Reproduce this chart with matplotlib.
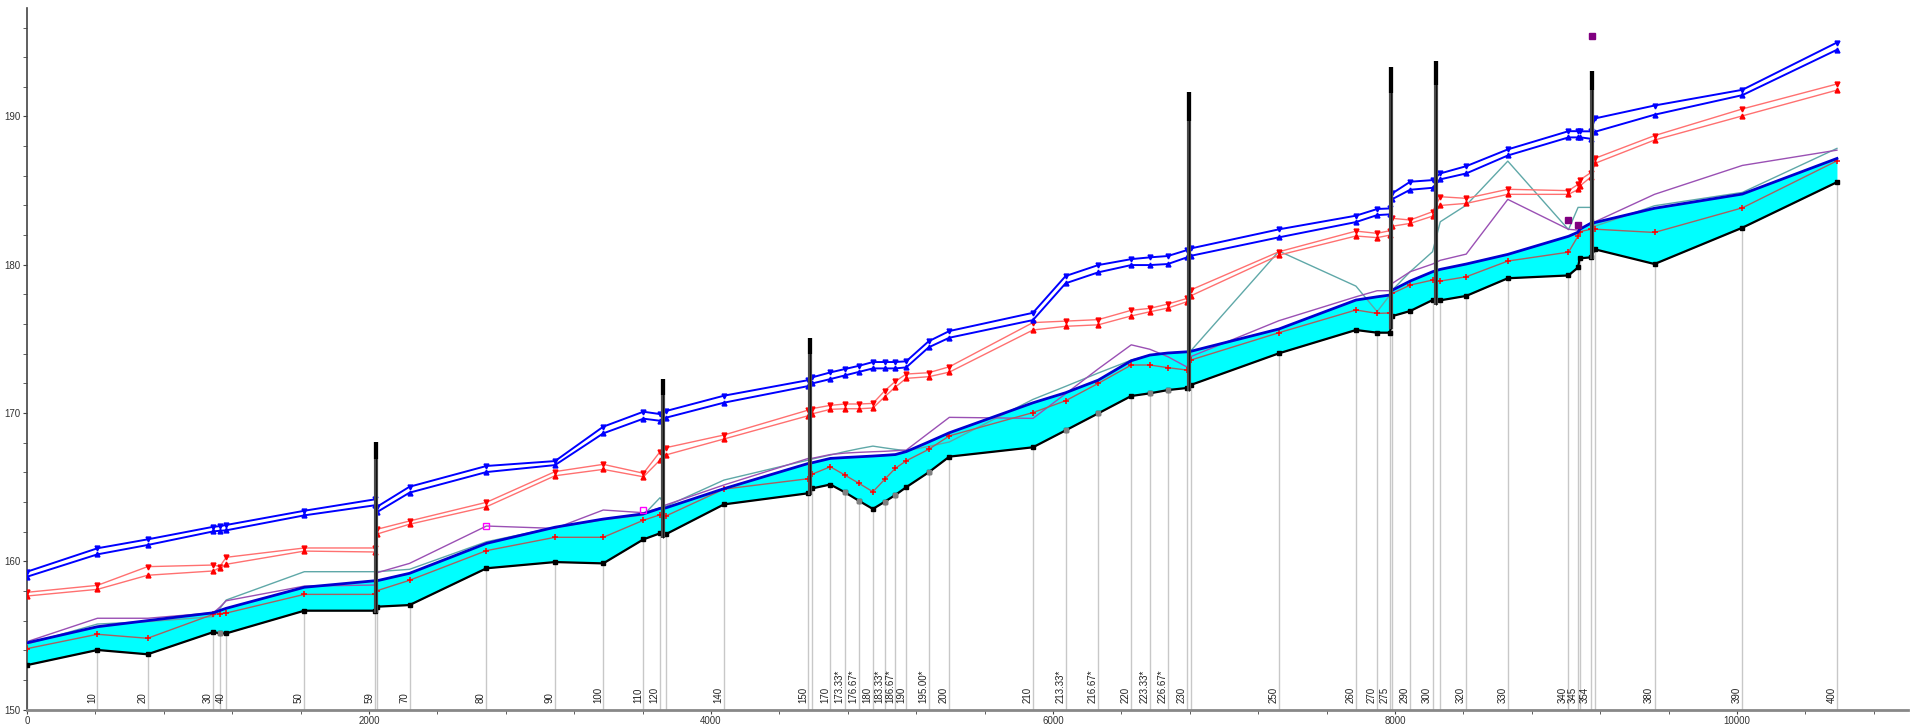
import numpy as np
import matplotlib
matplotlib.use('Agg')
import matplotlib.pyplot as plt
from matplotlib.ticker import MultipleLocator

plt.rcParams['font.family'] = ['Liberation Sans', 'DejaVu Sans']

# river stations (labels under the profile) and main channel distance
labels = ['', '10', '20', '30', '', '40', '50', '59', '', '70',
          '80', '90', '100', '110', '120', '', '140', '150', '', '170',
          '173.33*', '176.67*', '180', '183.33*', '186.67*', '190', '195.00*', '200', '210', '213.33*',
          '216.67*', '220', '223.33*', '226.67*', '230', '', '250', '260', '270', '275',
          '', '290', '300', '', '320', '330', '340', '345', '', '354',
          '', '380', '390', '400']
dist = [0, 412, 705, 1090, 1127, 1165, 1622, 2035, 2047, 2237,
        2687, 3088, 3370, 3605, 3702, 3735, 4076, 4569, 4593, 4698,
        4784, 4867, 4947, 5016, 5078, 5142, 5273, 5394, 5883, 6074,
        6265, 6458, 6567, 6672, 6784, 6805, 7322, 7772, 7896, 7971,
        7985, 8089, 8220, 8265, 8417, 8660, 9015, 9071, 9080, 9144,
        9170, 9518, 10032, 10585]

# channel invert
ground = [153.0, 154.02, 153.73, 155.23, 155.14, 155.14, 156.67, 156.67, 156.94, 157.05,
          159.53, 159.95, 159.86, 161.48, 161.89, 161.82, 163.84, 164.59, 164.92, 165.18,
          164.65, 164.07, 163.53, 164.02, 164.47, 165.0, 166.0, 167.06, 167.69, 168.83,
          169.98, 171.15, 171.33, 171.55, 171.69, 171.89, 174.03, 175.6, 175.42, 175.42,
          176.54, 176.88, 177.62, 177.6, 177.9, 179.09, 179.28, 179.82, 180.43, 180.5,
          181.04, 180.05, 182.5, 185.57]
interp_sections = [4, 20, 21, 23, 24, 26, 29, 30, 32, 33]

# water surface
ws = [154.5, 155.59, 156.0, 156.53, 156.68, 156.83, 158.25, 158.69, 158.69, 159.19,
      161.21, 162.3, 162.85, 163.2, 163.57, 163.6, 164.9, 166.6, 166.65, 166.94,
      167.0, 167.05, 167.1, 167.15, 167.2, 167.4, 168.05, 168.67, 170.69, 171.37,
      172.22, 173.53, 173.91, 174.05, 174.13, 174.16, 175.67, 177.62, 177.84, 177.96,
      178.29, 178.9, 179.53, 179.69, 180.05, 180.7, 181.92, 182.2, 182.39, 182.79,
      182.85, 183.81, 184.77, 187.17]

# critical depth
crit = [154.11, 155.08, 154.81, 156.43, 156.47, 156.51, 157.77, 157.77, 158.02, 158.72,
        160.72, 161.62, 161.62, 162.77, 163.14, 163.05, 164.87, 165.57, 165.88, 166.38,
        165.81, 165.25, 164.69, 165.53, 166.27, 166.78, 167.55, 168.46, 170.03, 170.83,
        172.0, 173.24, 173.24, 173.06, 172.9, 173.57, 175.42, 176.95, 176.72, 176.75,
        178.07, 178.63, 178.97, 178.9, 179.19, 180.25, 180.85, 181.94, 182.23, 182.39,
        182.4, 182.18, 183.84, 187.01]

# bank elevations
left_bank = [154.58, 156.16, 156.16, 156.53, 156.9, 157.34, 158.33, 158.4, 159.23, 159.86,
             162.38, 162.22, 163.46, 163.28, 163.6, 163.8, 165.15, 166.94, 166.95, 167.2,
             167.3, 167.35, 167.39, 167.42, 167.46, 167.5, 168.65, 169.71, 169.64, 171.3,
             172.98, 174.6, 174.3, 173.8, 173.1, 173.8, 176.23, 177.84, 178.25, 178.25,
             178.75, 179.53, 180.05, 180.3, 180.72, 184.41, 182.39, 182.34, 182.39, 182.8,
             182.9, 184.75, 186.7, 187.73]
right_bank = [154.42, 155.77, 155.93, 156.27, 156.8, 157.39, 159.3, 159.3, 159.3, 159.46,
              161.32, 162.29, 162.8, 163.12, 164.29, 163.7, 165.48, 166.83, 166.9, 167.17,
              167.4, 167.6, 167.77, 167.65, 167.55, 167.46, 167.75, 168.05, 170.92, 171.8,
              172.7, 173.57, 173.9, 174.05, 174.13, 174.18, 180.92, 178.56, 176.84, 177.96,
              178.3, 179.53, 180.88, 182.9, 184.02, 186.99, 182.37, 183.87, 183.87, 183.87,
              182.6, 183.98, 184.88, 187.85]

# upper profiles (blue pair, red pair)
blue_hi = [159.3, 160.88, 161.48, 162.33, 162.37, 162.45, 163.41, 164.18, 163.68, 165.03,
           166.43, 166.76, 169.08, 170.09, 169.93, 170.13, 171.17, 172.22, 172.41, 172.74,
           172.97, 173.19, 173.44, 173.44, 173.44, 173.49, 174.84, 175.53, 176.76, 179.24,
           179.98, 180.38, 180.5, 180.59, 180.99, 181.1, 182.39, 183.31, 183.76, 183.8,
           184.82, 185.6, 185.71, 186.16, 186.65, 187.78, 189.01, 189.01, 189.0, 189.0,
           189.87, 190.74, 191.8, 194.99]
blue_lo = [158.96, 160.47, 161.1, 162.02, 162.06, 162.09, 163.1, 163.78, 163.32, 164.63,
           166.02, 166.49, 168.63, 169.62, 169.48, 169.68, 170.7, 171.82, 172.0, 172.29,
           172.54, 172.78, 173.01, 173.01, 173.01, 173.08, 174.43, 175.08, 176.27, 178.75,
           179.49, 179.98, 179.98, 180.05, 180.5, 180.6, 181.85, 182.88, 183.35, 183.4,
           184.43, 185.06, 185.19, 185.76, 186.16, 187.37, 188.59, 188.59, 188.6, 188.5,
           188.97, 190.12, 191.44, 194.5]
red_hi = [157.91, 158.38, 159.64, 159.75, 159.64, 160.27, 160.9, 160.9, 162.16, 162.72,
          163.98, 166.05, 166.54, 165.94, 167.39, 167.66, 168.52, 170.2, 170.3, 170.52,
          170.61, 170.61, 170.65, 171.5, 172.14, 172.63, 172.72, 173.12, 176.1, 176.2,
          176.3, 176.93, 177.06, 177.35, 177.73, 178.3, 180.88, 182.27, 182.12, 182.3,
          183.13, 183.02, 183.58, 184.59, 184.48, 185.09, 185.0, 185.42, 185.71, 186.2,
          187.18, 188.71, 190.51, 192.19]
red_lo = [157.66, 158.11, 159.06, 159.35, 159.57, 159.8, 160.69, 160.63, 161.84, 162.5,
          163.68, 165.77, 166.2, 165.7, 166.83, 167.17, 168.25, 169.82, 169.95, 170.25,
          170.29, 170.29, 170.34, 171.1, 171.75, 172.34, 172.45, 172.76, 175.6, 175.85,
          175.95, 176.55, 176.83, 177.08, 177.51, 177.9, 180.65, 181.94, 181.83, 182.0,
          182.6, 182.79, 183.28, 184.0, 184.14, 184.75, 184.75, 185.08, 185.3, 185.9,
          186.84, 188.41, 190.04, 191.78]

# bridges (deck top)
bridge_dist = [2041, 3718, 4581, 6795, 7978, 8242, 9152]
bridge_top = [168.07, 172.28, 175.04, 191.68, 193.33, 193.74, 193.08]

# single points
open_sq_x = [2687, 3605]
open_sq_y = [162.4, 163.45]
fill_sq_x = [9015, 9071, 9152]
fill_sq_y = [183.02, 182.68, 195.44]

fig = plt.figure(figsize=(19.15, 7.24), dpi=100)
ax = fig.add_axes([0.0141, 0.0199, 0.9822, 0.9687])

dist = np.array(dist)
ground = np.array(ground)

# section lines down to the axis
ax.vlines(dist, 150, ground, color='#c8c8c8', lw=1, zorder=1)

ax.fill_between(dist, ground, ws, color='#00ffff', lw=0, zorder=2)

ax.plot(dist, right_bank, color='#5fa8a8', lw=1, zorder=3)
ax.plot(dist, left_bank, color='#9a50b4', lw=1, zorder=3)
ax.plot(dist, crit, color='#a86060', lw=1, marker='+', ms=4, mew=1.1,
        mec='red', zorder=4)
ax.plot(dist, ws, color='#0000d0', lw=2, zorder=4)
ax.plot(dist, ground, color='black', lw=1.6, marker='s', ms=3.2, zorder=5)
ax.plot(dist[interp_sections], ground[interp_sections], ls='none', marker='s',
        ms=3.2, color='#808080', zorder=6)

ax.plot(dist, red_hi, color='#ff7070', lw=1, marker='v', ms=3.5, mfc='red', mec='red', zorder=4)
ax.plot(dist, red_lo, color='#ff7070', lw=1, marker='^', ms=3.5, mfc='red', mec='red', zorder=4)
ax.plot(dist, blue_hi, color='blue', lw=1.4, marker='v', ms=3.5, zorder=4)
ax.plot(dist, blue_lo, color='blue', lw=1.4, marker='^', ms=3.5, zorder=4)

# bridge decks: grey body with a black cap
bridge_bot = np.interp(bridge_dist, dist, ground) - 0.3
bridge_top = np.array(bridge_top)
ax.vlines(bridge_dist, bridge_bot, bridge_top, color='#4a4a4a', lw=3, zorder=7)
ax.vlines(bridge_dist, bridge_bot, bridge_top, color='#111111', lw=0.8, zorder=7)
cap = np.minimum(2.0, (bridge_top - bridge_bot) * 0.1)
ax.vlines(bridge_dist, bridge_top - cap, bridge_top, color='black', lw=3, zorder=8)

ax.plot(open_sq_x, open_sq_y, ls='none', marker='s', ms=4, mfc='none',
        mec='#ff00ff', mew=1, zorder=6)
ax.plot(fill_sq_x, fill_sq_y, ls='none', marker='s', ms=4, color='#800080', zorder=6)

for d, lab in zip(dist, labels):
    if lab:
        ax.annotate(lab, xy=(d, 150), xytext=(-0.3, 4.5), textcoords='offset points',
                    rotation=90, ha='right', va='bottom', fontsize=7, color='#222222')

ax.set_xlim(0, 11000)
ax.set_ylim(150, 197.3)
ax.xaxis.set_major_locator(MultipleLocator(2000))
ax.xaxis.set_minor_locator(MultipleLocator(400))
ax.yaxis.set_major_locator(MultipleLocator(10))
ax.yaxis.set_minor_locator(MultipleLocator(2))
ax.tick_params(which='both', direction='out', length=3, color='#444444',
               labelsize=7, labelcolor='#333333', pad=1.5)

for side in ['top', 'right']:
    ax.spines[side].set_visible(False)
ax.spines['left'].set_color('#444444')
ax.spines['left'].set_linewidth(1.2)
ax.spines['bottom'].set_color('#888888')
ax.spines['bottom'].set_linewidth(2)

fig.savefig('out.png', dpi=100)
